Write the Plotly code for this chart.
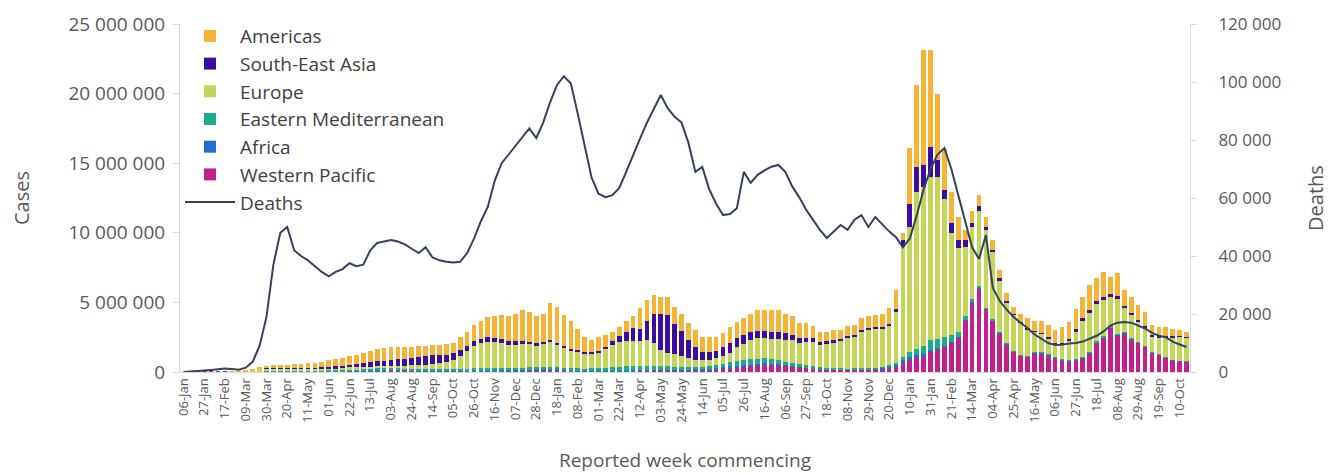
import pandas as pd
import plotly.graph_objects as go

# ---- categories -------------------------------------------------------------
weeks = [d.strftime("%Y-%m-%d") for d in pd.date_range("2020-01-06", periods=146, freq="7D")]
tick_labels = ["06-Jan","27-Jan","17-Feb","09-Mar","30-Mar","20-Apr","11-May","01-Jun","22-Jun","13-Jul",
               "03-Aug","24-Aug","14-Sep","05-Oct","26-Oct","16-Nov","07-Dec","28-Dec","18-Jan","08-Feb",
               "01-Mar","22-Mar","12-Apr","03-May","24-May","14-Jun","05-Jul","26-Jul","16-Aug","06-Sep",
               "27-Sep","18-Oct","08-Nov","29-Nov","20-Dec","10-Jan","31-Jan","21-Feb","14-Mar","04-Apr",
               "25-Apr","16-May","06-Jun","27-Jun","18-Jul","08-Aug","29-Aug","19-Sep","10-Oct"]

# ---- weekly cases by WHO region (thousands) ----------------------------------
western_pacific_k = [0,0,2,15,25,30,12,5,5,8,
    8,12,16,20,20,15,10,8,7,8,
    10,12,15,20,25,30,40,50,60,70,
    80,85,85,80,70,60,50,45,40,38,
    38,38,40,42,45,50,55,60,65,70,
    75,80,85,90,85,75,65,55,50,45,
    45,48,55,60,65,70,75,80,90,100,
    110,120,125,125,120,120,130,150,190,250,
    310,380,440,500,540,540,500,450,400,350,
    300,250,210,180,160,150,150,155,160,170,
    180,200,230,300,600,850,1000,1100,1450,1600,
    1800,2100,2500,3700,5000,6000,4500,3700,2800,2000,
    1450,1150,1100,1350,1350,1200,1000,850,750,850,
    1000,1350,2100,2450,3200,2650,2800,2350,2100,1800,
    1350,1250,1050,850,780,750]
africa_k = [0,0,0,0,0,0,0,0,0,0,
    1,2,4,5,6,8,10,12,14,17,
    20,25,30,38,48,60,75,90,100,100,
    90,80,70,60,55,50,45,42,40,40,
    40,42,45,48,50,55,60,65,70,80,
    95,110,125,120,105,85,70,60,50,45,
    42,40,40,40,40,40,40,40,40,40,
    40,40,45,50,65,90,120,145,160,150,
    130,110,95,85,75,65,55,45,38,33,
    30,28,26,25,24,24,24,25,28,35,
    60,110,180,250,280,250,200,160,130,100,
    80,60,50,45,40,35,30,28,26,25,
    25,26,30,40,55,65,60,50,40,35,
    32,30,30,30,28,26,24,22,20,18,
    16,15,14,13,12,12]
eastern_med_k = [0,0,0,0,0,0,0,1,5,10,
    15,22,28,30,33,38,45,55,65,80,
    95,110,120,125,125,120,115,110,105,100,
    95,95,95,100,100,100,105,110,115,125,
    140,155,170,185,195,200,200,190,180,170,
    160,160,165,160,155,145,140,140,150,165,
    185,210,240,270,300,320,330,320,310,290,
    260,230,200,185,180,185,195,215,245,290,
    330,360,380,380,360,320,280,240,200,165,
    140,120,105,95,85,80,75,72,70,70,
    70,75,85,120,200,330,480,600,700,700,
    600,480,350,250,180,130,100,80,70,60,
    55,50,45,40,38,36,35,35,38,45,
    55,65,75,80,80,75,65,55,48,42,
    36,32,30,28,26,25]
europe_k = [0,0,0,0,0,0,0,2,12,50,
    110,180,210,230,215,200,185,160,140,130,
    125,120,120,125,130,130,135,135,145,155,
    165,185,205,235,265,305,355,420,500,650,
    900,1250,1600,1800,1900,1850,1750,1650,1650,1700,
    1650,1550,1650,1800,1650,1450,1300,1200,1100,1050,
    1150,1350,1600,1750,1800,1800,1750,1850,1650,1170,
    950,900,750,650,500,460,420,480,550,700,
    1000,1150,1350,1450,1450,1480,1560,1600,1650,1550,
    1700,1750,1600,1700,1850,1950,2200,2300,2650,2750,
    2800,2750,2850,3700,7900,8970,11220,11440,11720,11600,
    9920,7360,6000,5005,5180,5435,5570,4792,3704,2915,
    2570,2300,1900,1450,1300,1100,900,1050,1400,2000,
    2600,2800,2700,2600,2100,2500,1700,1650,1450,1350,
    1150,1200,1400,1600,1700,1700]
south_east_asia_k = [0,0,0,0,0,0,0,0,0,1,
    2,4,8,15,25,30,40,50,60,70,
    80,100,120,140,170,210,250,300,350,400,
    440,470,500,550,600,630,660,620,560,500,
    440,380,340,320,300,290,280,260,230,200,
    170,150,140,130,120,110,100,95,95,100,
    110,150,300,450,700,900,900,1350,2100,2600,
    2750,2150,1800,1300,950,600,580,550,650,700,
    700,650,600,550,520,500,480,440,400,340,
    300,260,220,200,180,160,150,140,130,120,
    110,105,105,130,500,1700,1800,1600,2200,1200,
    700,700,600,500,300,300,200,150,120,100,
    90,85,80,80,85,90,95,100,110,130,
    160,190,210,220,210,200,180,160,140,120,
    100,90,80,70,65,60]
americas_k = [0,0,0,0,0,0,0,1,5,5,
    35,90,160,200,220,230,260,295,334,375,
    420,483,515,552,652,700,785,815,890,895,
    910,885,825,775,760,755,735,713,745,747,
    942,1035,1205,1305,1460,1605,1755,1775,2005,2230,
    2150,1950,2035,2650,2585,2235,2025,1550,1105,895,
    968,852,665,680,795,870,1505,1560,1310,1200,
    1290,1260,1280,1190,1185,1045,1055,960,1005,1160,
    1130,1250,1335,1485,1505,1545,1575,1425,1312,1062,
    1030,892,739,700,701,636,701,708,862,855,
    880,960,1150,1400,520,4000,5900,8200,6900,4800,
    2900,2200,1600,700,900,800,700,750,580,600,
    510,589,745,740,872,909,910,1115,1262,1440,
    1553,1815,1635,1820,1182,1649,1131,1163,1042,970,
    748,613,626,539,417,353]

# ---- weekly deaths -------------------------------------------------------------
deaths = [0,100,300,500,700,900,1200,1000,800,1500,
    3500,9000,19000,37000,48000,50000,42000,40000,38500,36500,
    34500,33000,34500,35500,37500,36500,37000,42000,44500,45000,
    45500,45000,44000,42500,41000,43000,39500,38500,38000,37800,
    38000,41000,46000,52000,57000,66000,72000,75000,78000,81000,
    84000,80700,86000,93000,99000,102000,99500,89000,78000,67000,
    61500,60300,61000,63500,69000,75000,80500,86000,91000,95500,
    91000,88000,86000,79000,69000,70700,63000,58000,54100,54500,
    56500,69000,65200,68000,69500,70800,71400,69000,64000,60300,
    56000,52400,49000,46200,48500,50700,49000,52500,54100,50000,
    53400,51000,48500,46500,43000,46000,54000,63000,70000,75000,
    77200,70000,61000,52000,43000,39000,47200,29000,24500,21500,
    19000,17000,15200,13000,11500,10000,9300,9400,9800,10000,
    10500,11500,12500,14000,16000,17000,17200,17000,16000,15000,
    13500,12500,12000,10500,9500,8600]

regions = [  # stacking order bottom -> top, legend rank
    ("Western Pacific", western_pacific_k, "#C4208D", 6),
    ("Africa", africa_k, "#1F6FD0", 5),
    ("Eastern Mediterranean", eastern_med_k, "#1CAB8C", 4),
    ("Europe", europe_k, "#C3D65A", 3),
    ("South-East Asia", south_east_asia_k, "#3A0CA0", 2),
    ("Americas", americas_k, "#F6B335", 1),
]

FONT = "Open Sans"
GREY = "#595959"

fig = go.Figure()
for name, vals, color, rank in regions:
    fig.add_trace(go.Bar(
        x=weeks, y=[v * 1000 for v in vals], name=name,
        marker=dict(color=color, line=dict(width=0)),
        legendrank=rank,
    ))
fig.add_trace(go.Scatter(
    x=weeks, y=deaths, name="Deaths", mode="lines", yaxis="y2",
    line=dict(color="#34425F", width=2), legendrank=7,
))

# the page body adds an 8px offset, so the figure is 8px smaller and margins shifted
fig.update_layout(
    width=1327, height=465,
    margin=dict(l=172, r=145, t=16, b=101, autoexpand=False),
    barmode="stack", bargap=0.32,
    separators=". ",
    plot_bgcolor="white", paper_bgcolor="white",
    font=dict(family=FONT, color=GREY, size=14),
    legend=dict(
        x=0.0, y=1.02, xanchor="left", yanchor="top",
        traceorder="normal", bgcolor="rgba(0,0,0,0)",
        font=dict(size=19, color="#404040", family=FONT),
        itemwidth=50, tracegroupgap=0,
    ),
    xaxis=dict(
        type="category", tickmode="array",
        tickvals=weeks[::3], ticktext=tick_labels,
        tickangle=-90, tickfont=dict(size=13, color=GREY),
        showline=True, linecolor="#d9d9d9", linewidth=1,
        showgrid=False, ticks="", automargin=False,
        title=dict(text="Reported week commencing", font=dict(size=19, color=GREY), standoff=34),
    ),
    yaxis=dict(
        range=[0, 25_000_000], dtick=5_000_000, tickformat=",d",
        showline=True, linecolor="#d9d9d9", linewidth=1,
        ticks="outside", ticklen=6, tickcolor="#d9d9d9",
        showgrid=False, zeroline=False, automargin=False,
        tickfont=dict(size=19, color=GREY), ticklabelstandoff=4,
        title=dict(text="Cases", font=dict(size=20, color=GREY), standoff=34),
    ),
    yaxis2=dict(
        range=[0, 120_000], dtick=20_000, tickformat=",d",
        overlaying="y", side="right",
        showline=True, linecolor="#d9d9d9", linewidth=1,
        ticks="outside", ticklen=6, tickcolor="#d9d9d9",
        showgrid=False, zeroline=False, automargin=False,
        tickfont=dict(size=17, color=GREY), ticklabelstandoff=18,
        title=dict(text="Deaths", font=dict(size=20, color=GREY), standoff=28),
    ),
)

fig.write_html("out.html")
